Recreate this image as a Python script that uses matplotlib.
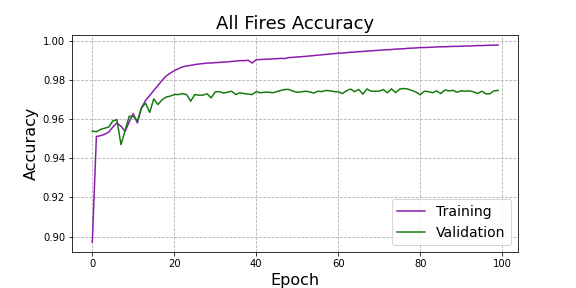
import matplotlib
matplotlib.use("Agg")
import matplotlib.pyplot as plt
import numpy as np

epochs = list(range(100))

training = [
    0.8970, 0.9511, 0.9515, 0.9522, 0.9533, 0.9559, 0.9580, 0.9563, 0.9537, 0.9585,
    0.9627, 0.9580, 0.9657, 0.9695, 0.9720, 0.9746, 0.9771, 0.9797, 0.9819, 0.9834,
    0.9847, 0.9857, 0.9866, 0.9871, 0.9874, 0.9878, 0.9881, 0.9883, 0.9886, 0.9886,
    0.9888, 0.9889, 0.9891, 0.9892, 0.9894, 0.9896, 0.9898, 0.9898, 0.9900, 0.9886,
    0.9903, 0.9904, 0.9905, 0.9906, 0.9907, 0.9908, 0.9910, 0.9909, 0.9914, 0.9915,
    0.9917, 0.9918, 0.9920, 0.9922, 0.9924, 0.9926, 0.9928, 0.9930, 0.9932, 0.9934,
    0.9936, 0.9937, 0.9939, 0.9941, 0.9942, 0.9944, 0.9945, 0.9947, 0.9948, 0.9950,
    0.9951, 0.9953, 0.9954, 0.9955, 0.9957, 0.9958, 0.9959, 0.9961, 0.9962, 0.9963,
    0.9965, 0.9965, 0.9966, 0.9967, 0.9968, 0.9969, 0.9969, 0.9970, 0.9971, 0.9971,
    0.9972, 0.9973, 0.9973, 0.9974, 0.9975, 0.9975, 0.9976, 0.9977, 0.9977, 0.9978,
]

validation = [
    0.9539, 0.9535, 0.9547, 0.9553, 0.9559, 0.9590, 0.9597, 0.9469, 0.9542, 0.9614,
    0.9614, 0.9590, 0.9657, 0.9681, 0.9634, 0.9703, 0.9674, 0.9698, 0.9712, 0.9717,
    0.9725, 0.9725, 0.9730, 0.9725, 0.9691, 0.9725, 0.9722, 0.9722, 0.9729, 0.9708,
    0.9739, 0.9740, 0.9732, 0.9737, 0.9742, 0.9725, 0.9734, 0.9730, 0.9727, 0.9725,
    0.9740, 0.9734, 0.9737, 0.9737, 0.9734, 0.9740, 0.9746, 0.9751, 0.9751, 0.9742,
    0.9737, 0.9739, 0.9742, 0.9739, 0.9732, 0.9742, 0.9740, 0.9746, 0.9744, 0.9740,
    0.9739, 0.9730, 0.9744, 0.9753, 0.9740, 0.9751, 0.9727, 0.9754, 0.9742, 0.9742,
    0.9742, 0.9751, 0.9734, 0.9754, 0.9735, 0.9753, 0.9756, 0.9753, 0.9746, 0.9737,
    0.9724, 0.9742, 0.9740, 0.9734, 0.9744, 0.9730, 0.9748, 0.9744, 0.9746, 0.9737,
    0.9744, 0.9742, 0.9744, 0.9739, 0.9730, 0.9742, 0.9729, 0.9729, 0.9744, 0.9746,
]

fig = plt.figure(figsize=(8, 4), dpi=72)
ax = fig.add_subplot(111)
fig.subplots_adjust(left=0.125, right=0.9, bottom=0.124, top=0.878)

ax.plot(epochs, training, color="#8B1AAE", linewidth=1.5, label="Training")
ax.plot(epochs, validation, color="#137A0C", linewidth=1.5, label="Validation")

ax.set_title("All Fires Accuracy", fontsize=18)
ax.set_xlabel("Epoch", fontsize=16)
ax.set_ylabel("Accuracy", fontsize=16)
ax.set_xticks([0, 20, 40, 60, 80, 100])
ax.set_yticks([0.90, 0.92, 0.94, 0.96, 0.98, 1.00])
ax.tick_params(labelsize=10)
ax.grid(True, linestyle="--", color="#b0b0b0", linewidth=0.8)
ax.legend(loc="lower right", fontsize=14)

fig.savefig("out.png", dpi=72)
